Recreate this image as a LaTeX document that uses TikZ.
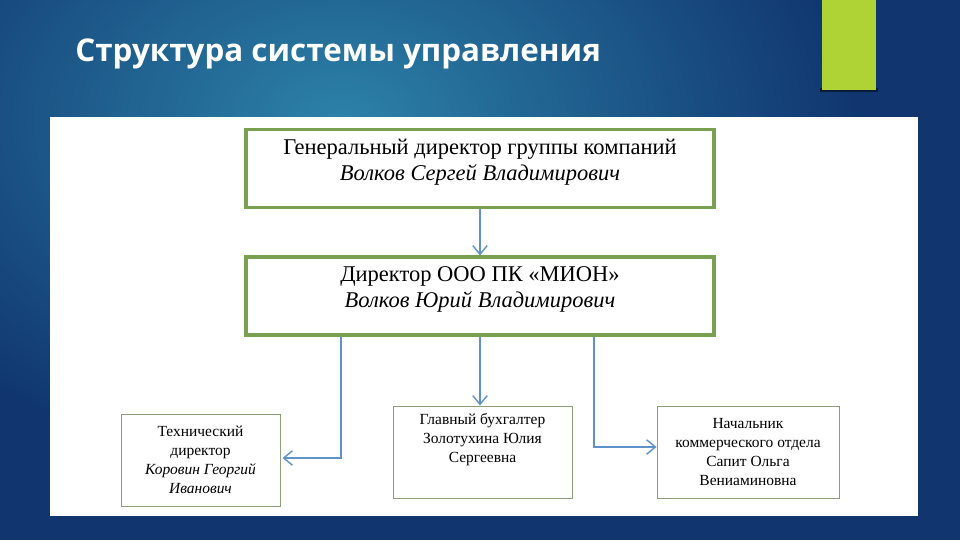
\documentclass[tikz,border=0pt]{standalone}
\usepackage{fontspec}
\setmainfont{Liberation Serif}
\newfontfamily\titlefont{Open Sans}
\usetikzlibrary{arrows.meta, calc}
\definecolor{bgdark}{HTML}{10356F}
\definecolor{bglight}{HTML}{2C82A8}
\definecolor{barcol}{HTML}{AFD235}
\definecolor{boxgreen}{HTML}{7AA152}
\definecolor{thinbox}{HTML}{8E9C7A}
\definecolor{linkblue}{HTML}{5F92CB}
\tikzset{
	bigbox/.style={shape=rectangle, draw=boxgreen, line width=2.2pt, fill=white, minimum width=11.7cm, minimum height=1.95cm, align=center, font=\fontsize{16}{18.5}\selectfont},
	smallbox/.style={shape=rectangle, draw=thinbox, line width=0.7pt, fill=white, minimum height=2.3cm, align=center, font=\fontsize{11}{13.5}\selectfont},
	link/.style={draw=linkblue, line width=1pt, -{Straight Barb[length=2.2mm, width=3.6mm]}}
}
\begin{document}
\begin{tikzpicture}
	% Background and slide title:
	\useasboundingbox (0, 0) rectangle (24, 13.5);
	\fill[bgdark] (0, 0) rectangle (24, 13.5);
	\begin{scope}
		\clip (0, 0) rectangle (24, 13.5);
		\shade[inner color=bglight, outer color=bgdark] (8.5, 10.5) ellipse (13cm and 9cm);
	\end{scope}
	\fill[black!70!bgdark, opacity=0.7] (20.5, 11.2) rectangle (21.95, 11.3);
	\fill[barcol] (20.55, 11.25) rectangle (21.9, 13.5);
	\node[anchor=west, text=white, inner sep=0pt, font=\titlefont\bfseries\fontsize{22.3}{26}\selectfont] (title) at (1.875, 12.15){Структура системы управления};
	\fill[white] (1.25, 0.6) rectangle (22.95, 10.575);
	% Boxes:
	\node[bigbox] (ceo) at (12, 9.29){Генеральный директор группы компаний\\\textit{Волков Сергей Владимирович}\\[-6pt]};
	\node[bigbox] (dir) at (12, 6.1){Директор ООО ПК «МИОН»\\\textit{Волков Юрий Владимирович}\\[-6pt]};
	\node[smallbox, minimum width=3.975cm] (tech) at (5.0125, 2.0){Технический\\директор\\\textit{Коровин Георгий}\\\textit{Иванович}};
	\node[smallbox, minimum width=4.475cm] (buh) at (12.0625, 2.2){Главный бухгалтер\\Золотухина Юлия\\Сергеевна\\[6pt]};
	\node[smallbox, minimum width=4.55cm] (comm) at (18.7, 2.2){Начальник\\коммерческого отдела\\Сапит Ольга\\Вениаминовна};
	% Connectors:
	\draw[link] (ceo.south) -- (dir.north);
	\draw[link] ([xshift=-3.475cm]dir.south) |- ([xshift=0.05cm, yshift=0.05cm]tech.east);
	\draw[link] (dir.south) -- (dir.south |- buh.north);
	\draw[link] ([xshift=2.85cm]dir.south) |- ([yshift=0.125cm]comm.west);
\end{tikzpicture}
\end{document}
